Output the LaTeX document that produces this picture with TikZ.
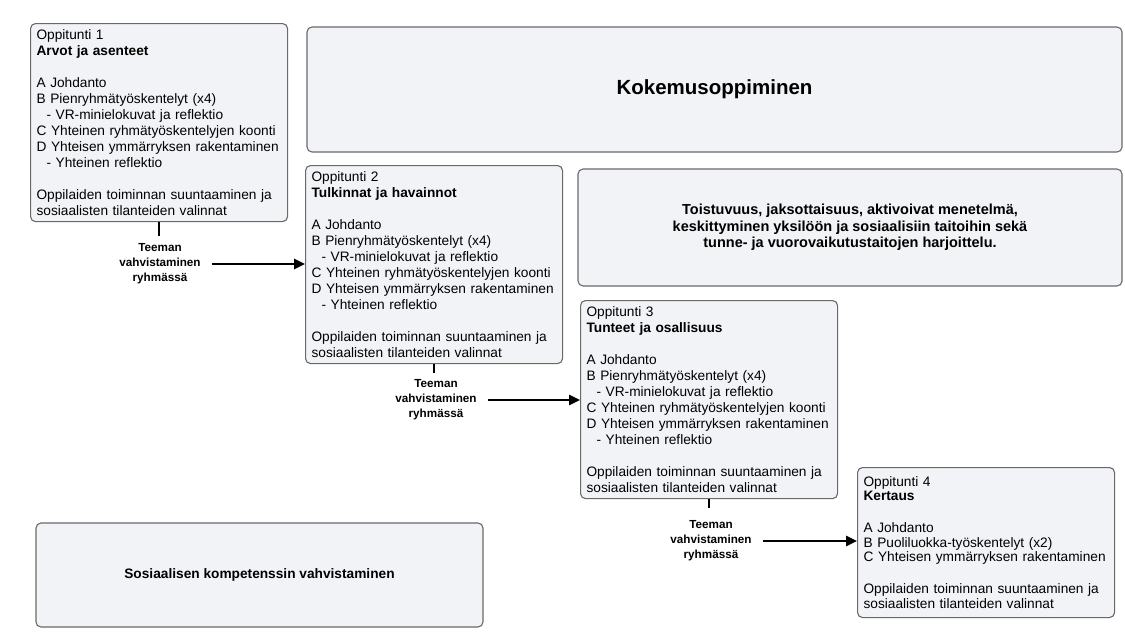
\documentclass[tikz,border=0pt]{standalone}
\usepackage{fontspec}
\setmainfont{Liberation Sans}
\usetikzlibrary{arrows.meta}
\definecolor{boxline}{RGB}{105,105,105}
\definecolor{boxfill}{RGB}{241,243,246}
\def\lessonbody{A Johdanto\\B Pienryhmätyöskentelyt (x4)\\\hspace*{10pt}- VR-minielokuvat ja reflektio\\C Yhteinen ryhmätyöskentelyjen koonti\\D Yhteisen ymmärryksen rakentaminen\\\hspace*{10pt}- Yhteinen reflektio\\[16pt]Oppilaiden toiminnan suuntaaminen ja\\sosiaalisten tilanteiden valinnat}
\tikzset{
	lesson/.style={draw=boxline, fill=boxfill, line width=1.1pt, rounded corners=5pt, anchor=north west, align=left, text width=245pt, inner xsep=6pt, inner ysep=6pt, minimum height=198pt, font=\fontsize{13.7}{16}\selectfont},
	theme/.style={draw=boxline, fill=boxfill, line width=1.1pt, rounded corners=5pt, align=center, font=\bfseries\fontsize{13.7}{16.5}\selectfont},
	stepnote/.style={align=center, inner xsep=11pt, font=\bfseries\fontsize{11.7}{15}\selectfont},
	flow/.style={line width=2.5pt, -{Triangle[length=11pt,width=10pt]}},
	stub/.style={line width=2.5pt}
}

\begin{document}
\begin{tikzpicture}[x=1pt, y=-1pt]
			%%%%% START %%%%%
			
			\fill[white] (0, 0) rectangle (1125, 637);
			\useasboundingbox (0, 0) rectangle (1125, 637);
			
			\node[theme, minimum width=815pt, minimum height=125pt, font=\bfseries\fontsize{20.5}{24}\selectfont] (learn) at (714.5, 89.5) {Kokemusoppiminen};
			\node[theme, minimum width=544pt, minimum height=117pt, font=\bfseries\fontsize{14.5}{16.5}\selectfont] (method) at (850, 227.5) {Toistuvuus, jaksottaisuus, aktivoivat menetelmä,\\keskittyminen yksilöön ja sosiaalisiin taitoihin sekä\\tunne- ja vuorovaikutustaitojen harjoittelu.};
			\node[theme, minimum width=447pt, minimum height=104pt] (social) at (259.5, 575) {Sosiaalisen kompetenssin vahvistaminen};
			
			\node[lesson] (les1) at (30, 23) {Oppitunti 1\\\textbf{Arvot ja asenteet}\\[16pt]\lessonbody};
			\node[lesson] (les2) at (305, 165) {Oppitunti 2\\\textbf{Tulkinnat ja havainnot}\\[16pt]\lessonbody};
			\node[lesson] (les3) at (580, 300) {Oppitunti 3\\\textbf{Tunteet ja osallisuus}\\[16pt]\lessonbody};
			\node[lesson, minimum height=150pt, font=\fontsize{13.7}{14.5}\selectfont] (les4) at (857, 467) {Oppitunti 4\\\textbf{Kertaus}\\[17.5pt]A Johdanto\\B Puoliluokka-työskentelyt (x2)\\C Yhteisen ymmärryksen rakentaminen\\[17.5pt]Oppilaiden toiminnan suuntaaminen ja\\sosiaalisten tilanteiden valinnat};
			
			\node[stepnote] (note1) at (160, 264) {Teeman\\vahvistaminen\\ryhmässä};
			\node[stepnote] (note2) at (436, 400) {Teeman\\vahvistaminen\\ryhmässä};
			\node[stepnote] (note3) at (711, 541) {Teeman\\vahvistaminen\\ryhmässä};
			
			\coordinate (tick1) at ([yshift=-14pt]les1.south);
			\coordinate (tick2) at ([yshift=-9pt]les2.south);
			\coordinate (tick3) at ([yshift=-9pt]les3.south);
			\draw[stub] (les1.south) -- (tick1);
			\draw[stub] (les2.south) -- (tick2);
			\draw[stub] (les3.south) -- (tick3);
			
			\draw[flow] (note1.east) -- (note1.east -| les2.west);
			\draw[flow] (note2.east) -- (note2.east -| les3.west);
			\draw[flow] (note3.east) -- (note3.east -| les4.west);
			
			%%%%% END %%%%%
\end{tikzpicture}
\end{document}
